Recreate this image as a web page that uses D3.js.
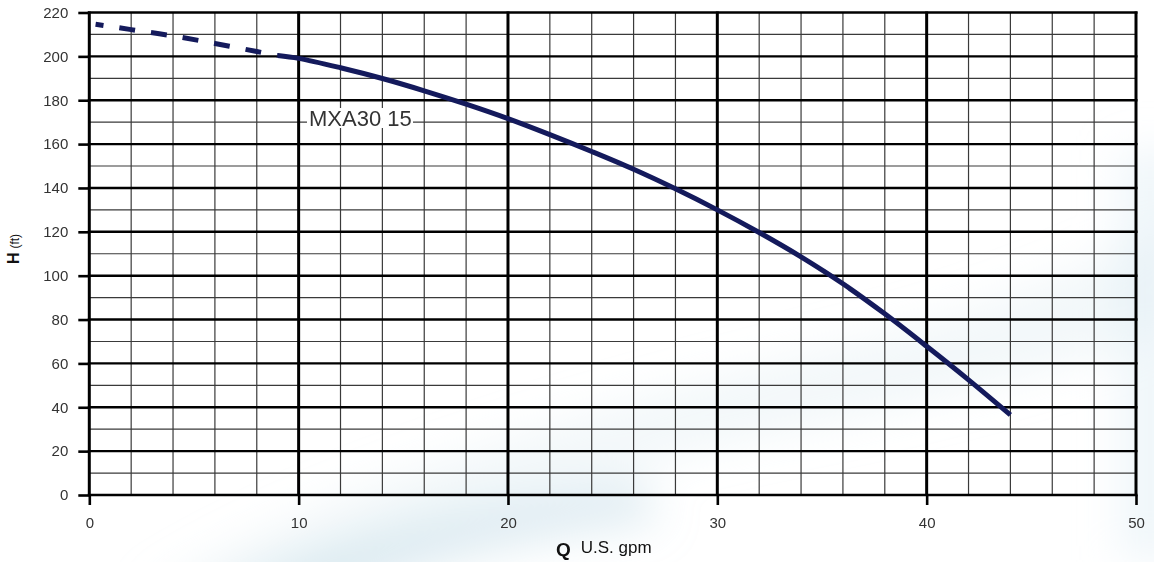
<!DOCTYPE html>
<html>
<head>
<meta charset="utf-8">
<script src="https://cdn.jsdelivr.net/npm/d3@7"></script>
<style>
  body { margin: 0; background: #fff; }
  svg { display: block; font-family: "Liberation Sans", Arial, sans-serif; }
</style>
</head>
<body>
<script>
// pump curve MXA30 15
var dashedQ = [0.3, 2, 4, 6, 8, 9];
var dashedH = [214.6, 212.2, 209.3, 205.9, 202.2, 200.4];
var solidQ = [9, 10, 12, 14, 16, 18, 20, 22, 24, 26, 28, 30, 32, 34, 36, 38, 40, 42, 44];
var solidH = [200.4, 199.1, 194.8, 189.9, 184.3, 178.2, 171.6, 164.3, 156.6, 148.5, 139.6, 130, 119.7, 108.6, 96.3, 82.6, 67.8, 52.5, 36.5];
var xTicks = [0, 10, 20, 30, 40, 50];
var yTicks = [0, 20, 40, 60, 80, 100, 120, 140, 160, 180, 200, 220];
var curveLabel = "MXA30 15";

var W = 1154, H = 562;
var x = d3.scaleLinear().domain([0, 50]).range([89.3, 1136]);
var y = d3.scaleLinear().domain([0, 220]).range([495, 12.5]);

var svg = d3.select("body").append("svg")
  .attr("width", W)
  .attr("height", H);

// faint watermark swoosh in the background
var defs = svg.append("defs");
defs.append("filter").attr("id", "blur")
  .attr("x", "-50%").attr("y", "-50%").attr("width", "200%").attr("height", "200%")
  .append("feGaussianBlur").attr("stdDeviation", 22);
var sw = svg.append("g").attr("filter", "url(#blur)");
sw.append("path")
  .attr("d", "M140,600 C320,480 620,400 900,330 C1010,300 1100,260 1180,220 L1180,330 C1080,360 960,400 800,430 C600,470 420,530 320,600 Z")
  .attr("fill", "#d6e7f0")
  .attr("opacity", 0.3);
sw.append("path")
  .attr("d", "M200,600 C330,540 480,500 640,480 L660,520 C520,540 400,570 330,600 Z")
  .attr("fill", "#b8d5e3")
  .attr("opacity", 0.45);
sw.append("path")
  .attr("d", "M1120,150 L1180,150 L1180,560 L1120,560 Z")
  .attr("fill", "#dceaf3")
  .attr("opacity", 0.45);

// grid
var grid = svg.append("g");
grid.selectAll("line.vminor")
  .data(d3.range(2, 50, 2).filter(function(d) { return d % 10 != 0; }))
  .enter().append("line")
  .attr("x1", function(d) { return x(d); })
  .attr("x2", function(d) { return x(d); })
  .attr("y1", y(0)).attr("y2", y(220))
  .attr("stroke", "#3a3a3a").attr("stroke-width", 1.2);
grid.selectAll("line.hminor")
  .data(d3.range(10, 220, 20))
  .enter().append("line")
  .attr("x1", x(0)).attr("x2", x(50))
  .attr("y1", function(d) { return y(d); })
  .attr("y2", function(d) { return y(d); })
  .attr("stroke", "#3a3a3a").attr("stroke-width", 1.2);
grid.selectAll("line.hmajor")
  .data(yTicks)
  .enter().append("line")
  .attr("x1", x(0) - 1.5).attr("x2", x(50) + 1.5)
  .attr("y1", function(d) { return y(d); })
  .attr("y2", function(d) { return y(d); })
  .attr("stroke", "#000").attr("stroke-width", 2.4);
grid.selectAll("line.vmajor")
  .data(xTicks)
  .enter().append("line")
  .attr("x1", function(d) { return x(d); })
  .attr("x2", function(d) { return x(d); })
  .attr("y1", y(0)).attr("y2", y(220) - 1)
  .attr("stroke", "#000").attr("stroke-width", 3);

// axes (ticks + labels)
var yAxis = svg.append("g")
  .attr("transform", "translate(" + x(0) + ",0)")
  .call(d3.axisLeft(y).tickValues(yTicks).tickSize(11).tickPadding(10));
var xAxis = svg.append("g")
  .attr("transform", "translate(0," + y(0) + ")")
  .call(d3.axisBottom(x).tickValues(xTicks).tickSize(10).tickPadding(12));
svg.selectAll(".domain").remove();
svg.selectAll(".tick line").attr("stroke", "#000").attr("stroke-width", 2.6);
svg.selectAll(".tick text")
  .attr("fill", "#333")
  .style("font-size", "15px")
  .style("font-family", "Liberation Sans, Arial, sans-serif");

// curve label box
svg.append("rect")
  .attr("x", 307).attr("y", 108)
  .attr("width", 106).attr("height", 20)
  .attr("fill", "#fff");
svg.append("text")
  .attr("x", 309).attr("y", 126)
  .attr("fill", "#333")
  .style("font-size", "22px")
  .text(curveLabel);

// the curve
var line = d3.line()
  .x(function(d) { return x(d[0]); })
  .y(function(d) { return y(d[1]); })
  .curve(d3.curveCatmullRom.alpha(0.5));
var dashedPts = dashedQ.map(function(q, i) { return [q, dashedH[i]]; });
var solidPts = solidQ.map(function(q, i) { return [q, solidH[i]]; });

svg.append("path")
  .datum(dashedPts)
  .attr("d", line)
  .attr("fill", "none")
  .attr("stroke", "#141a5c")
  .attr("stroke-width", 5)
  .attr("stroke-dasharray", "16,16")
  .attr("stroke-dashoffset", 8);
svg.append("path")
  .datum(solidPts)
  .attr("d", line)
  .attr("fill", "none")
  .attr("stroke", "#141a5c")
  .attr("stroke-width", 5);

// axis titles
var yt = svg.append("text")
  .attr("transform", "translate(19,249) rotate(-90)")
  .attr("text-anchor", "middle")
  .attr("fill", "#111");
yt.append("tspan").style("font-weight", "bold").style("font-size", "16px").text("H");
yt.append("tspan").attr("dx", 4).style("font-size", "12px").text("(ft)");

var xt = svg.append("text")
  .attr("x", 556).attr("y", 556)
  .attr("fill", "#111");
xt.append("tspan").style("font-weight", "bold").style("font-size", "19px").text("Q");
xt.append("tspan").attr("dx", 10).attr("dy", -3).style("font-size", "17px").text("U.S. gpm");
</script>
</body>
</html>
